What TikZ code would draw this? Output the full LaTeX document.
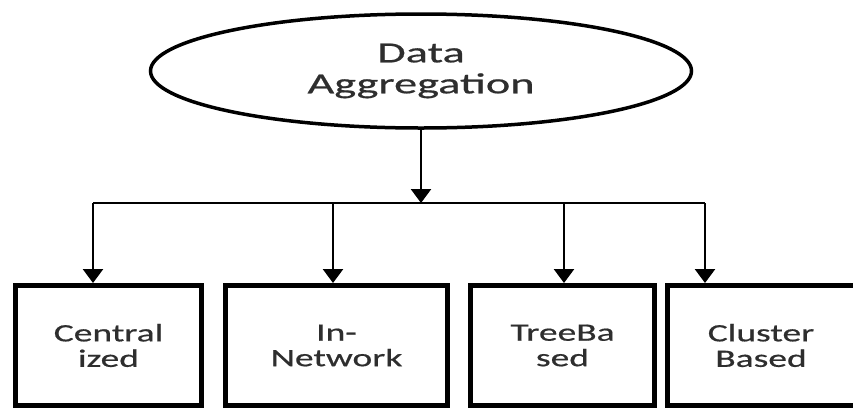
\documentclass[tikz,border=0pt]{standalone}
\usepackage{fontspec}
\setmainfont{Carlito}
\newfontfamily\bigfont[FakeStretch=1.6,FakeBold=0.6]{Carlito}
\newfontfamily\boxfont[FakeStretch=1.5,FakeBold=0.6]{Carlito}
\usetikzlibrary{shapes.geometric,arrows.meta}
\definecolor{txt}{HTML}{2E2E2E}
\begin{document}
\begin{tikzpicture}[x=1pt,y=-1pt,
  topnode/.style={draw, ellipse, line width=3.5pt, minimum width=541pt, minimum height=114pt,
    inner sep=0pt, align=center, text=txt, font=\bigfont\fontsize{29}{31}\selectfont},
  catbox/.style={draw, rectangle, line width=5pt, minimum height=120pt, inner sep=0pt,
    align=center, text=txt, font=\boxfont\fontsize{25}{25.5}\selectfont},
  link/.style={line width=2.6pt},
  arrowlink/.style={link, -{Triangle[width=20pt,length=14pt]}}]
\clip (0,0) rectangle (853,410);
\fill[white] (0,0) rectangle (853,410);
\node[topnode] (agg) at (421,71) {Data\\Aggregation};
\node[catbox, minimum width=186pt] (cent) at (108.5,345.5) {Central\\ized};
\node[catbox, minimum width=222pt] (innet) at (336.5,345.5) {In-\\Network};
\node[catbox, minimum width=184pt] (tree) at (562.5,345.5) {TreeBa\\sed};
\node[catbox, minimum width=188pt] (clus) at (761,345.5) {Cluster\\Based};
\coordinate (bus) at (421,203);
\coordinate (b1) at (93,203);
\coordinate (b2) at (333,203);
\coordinate (b3) at (564,203);
\coordinate (b4) at (705,203);
\draw[arrowlink] (agg.south) -- (agg.south |- bus);
\draw[link] (b1) -- (b4);
\draw[arrowlink] (b1) -- (b1 |- cent.north);
\draw[arrowlink] (b2) -- (b2 |- innet.north);
\draw[arrowlink] (b3) -- (b3 |- tree.north);
\draw[arrowlink] (b4) -- (b4 |- clus.north);
\end{tikzpicture}
\end{document}
